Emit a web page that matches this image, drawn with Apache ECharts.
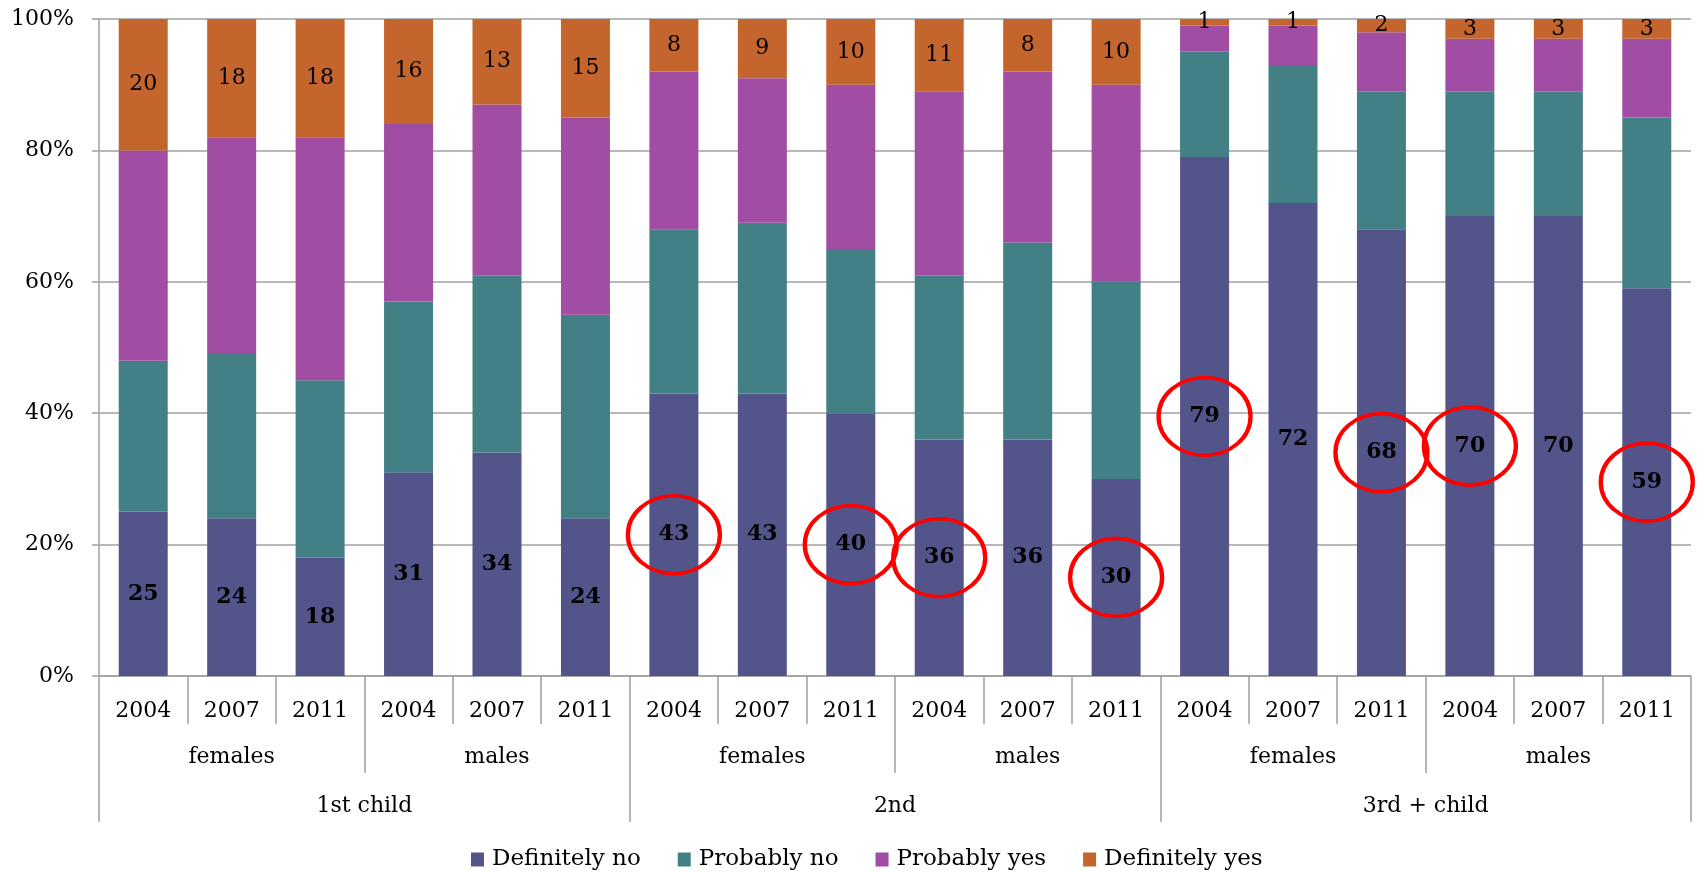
<!DOCTYPE html>
<html>
<head>
<meta charset="utf-8">
<title>Intention to have a child</title>
<script src="https://cdn.jsdelivr.net/npm/echarts@6/dist/echarts.min.js"></script>
<style>
  html, body { margin: 0; padding: 0; background: #fff; }
  #chart { width: 1705px; height: 872px; }
</style>
</head>
<body>
<div id="chart"></div>
<script>
// 分类层级
const years = ['2004', '2007', '2011']
const sexes = ['females', 'males']
const orders = ['1st child', '2nd', '3rd + child']

// 各答案比例 (%), 顺序: 1st F, 1st M, 2nd F, 2nd M, 3rd F, 3rd M 每组三年
const definitelyNo = [25, 24, 18, 31, 34, 24, 43, 43, 40, 36, 36, 30, 79, 72, 68, 70, 70, 59]
const probablyNo = [23, 25, 27, 26, 27, 31, 25, 26, 25, 25, 30, 30, 16, 21, 21, 19, 19, 26]
const probablyYes = [32, 33, 37, 27, 26, 30, 24, 22, 25, 28, 26, 30, 4, 6, 9, 8, 8, 12]
const definitelyYes = [20, 18, 18, 16, 13, 15, 8, 9, 10, 11, 8, 10, 1, 1, 2, 3, 3, 3]

// 红圈标出的柱子
const circled = [6, 8, 9, 11, 12, 14, 15, 17]

const yTicks = [0, 20, 40, 60, 80, 100]

const FONT = 'DejaVu Serif'
const GRAY = '#a0a0a0'

// 拼出三层横轴的标签
const yearLabels = []
const sexLabels = []
orders.forEach(() => {
  sexes.forEach((s) => {
    sexLabels.push(s)
    years.forEach((y) => yearLabels.push(y))
  })
})

const chart = echarts.init(document.getElementById('chart'), null, { renderer: 'canvas' })

const barSeries = (name, data, color, label) => ({
  name: name,
  type: 'bar',
  stack: 'total',
  barWidth: 49,
  data: data,
  itemStyle: { color: color },
  label: label,
  emphasis: { disabled: true }
})

const lowLabel = {
  show: true,
  position: 'inside',
  color: '#000',
  fontFamily: FONT,
  fontSize: 22,
  fontWeight: 'bold'
}

const topLabel = {
  show: true,
  position: 'inside',
  color: '#000',
  fontFamily: FONT,
  fontSize: 22
}

// 横轴的一层
const levelAxis = (data, offset, tickLen, margin) => ({
  type: 'category',
  data: data,
  position: 'bottom',
  offset: offset,
  axisLine: { show: offset === 0, lineStyle: { color: GRAY, width: 1.5 } },
  axisTick: { show: true, interval: 0, length: tickLen, lineStyle: { color: GRAY, width: 1.5 } },
  axisLabel: { show: true, interval: 0, margin: margin, fontFamily: FONT, fontSize: 22, color: '#000' }
})

const option = {
  animation: false,
  backgroundColor: '#fff',
  textStyle: { fontFamily: FONT, color: '#000' },
  grid: { left: 99, right: 14, top: 19, bottom: 196, containLabel: false },
  legend: {
    data: ['Definitely no', 'Probably no', 'Probably yes', 'Definitely yes'],
    left: 466,
    top: 843,
    icon: 'rect',
    itemWidth: 13,
    itemHeight: 14,
    itemGap: 37,
    textStyle: { fontFamily: FONT, fontSize: 23, color: '#000', padding: [0, 0, 0, 3] }
  },
  xAxis: [
    levelAxis(yearLabels, 0, 48, 24),
    levelAxis(sexLabels, 48, 49, 22),
    levelAxis(orders, 97, 49, 22)
  ],
  yAxis: {
    type: 'value',
    min: yTicks[0],
    max: yTicks[yTicks.length - 1],
    interval: 20,
    axisLine: { show: true, lineStyle: { color: GRAY, width: 1.5 } },
    axisTick: { show: true, length: 7, lineStyle: { color: GRAY, width: 1.5 } },
    splitLine: { lineStyle: { color: GRAY, width: 1.5 } },
    axisLabel: { margin: 25, fontFamily: FONT, fontSize: 22, color: '#000', formatter: '{value}%' }
  },
  series: [
    barSeries('Definitely no', definitelyNo, '#53548A', lowLabel),
    barSeries('Probably no', probablyNo, '#438086', { show: false }),
    barSeries('Probably yes', probablyYes, '#A04DA3', { show: false }),
    barSeries('Definitely yes', definitelyYes, '#C4652D', topLabel),
    {
      // 手画的红圈
      name: 'highlight',
      type: 'scatter',
      silent: true,
      z: 10,
      symbol: 'circle',
      symbolSize: [92, 78],
      itemStyle: { color: 'rgba(0,0,0,0)', borderColor: '#ff0000', borderWidth: 4, opacity: 1 },
      data: circled.map((i) => [i, definitelyNo[i] / 2])
    }
  ]
}

chart.setOption(option)
</script>
</body>
</html>
